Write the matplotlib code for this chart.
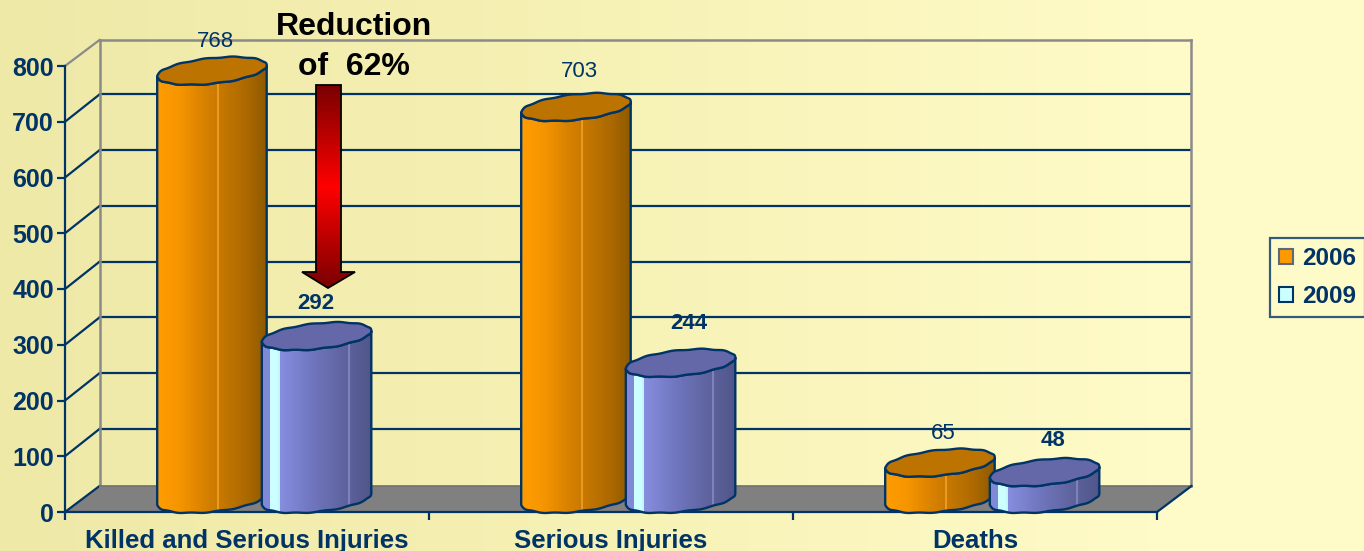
import numpy as np
import matplotlib
matplotlib.use('Agg')
import matplotlib.pyplot as plt
from matplotlib.colors import LinearSegmentedColormap
from matplotlib.patches import Patch, Polygon

plt.rcParams['font.family'] = ['Liberation Sans', 'DejaVu Sans']

# Values
categories = ['Killed and Serious Injuries', 'Serious Injuries', 'Deaths']
values_2006 = [768, 703, 65]
values_2009 = [292, 244, 48]
y_ticks = [0, 100, 200, 300, 400, 500, 600, 700, 800]

NAVY = '#003366'
GREY = '#8a8a8a'
W, H = 1364, 551

fig = plt.figure(figsize=(W / 100, H / 100), dpi=100)

# background gradient
bg = fig.add_axes([0, 0, 1, 1], zorder=-1)
bg_cmap = LinearSegmentedColormap.from_list('bg', ['#efe9a8', '#f6f1b4', '#fffbc8'])
bg.imshow(np.clip(np.linspace(0, 1.18, 400), 0, 1)[None, :], cmap=bg_cmap, aspect='auto')
bg.axis('off')

# front plane of the 3D box
left, right, top, bottom = 65, 1157, 66, 512
ax = fig.add_axes([left / W, 1 - bottom / H, (right - left) / W, (bottom - top) / H])
ax.patch.set_alpha(0)

px_x = 3 / (right - left)
px_y = 800 / (bottom - top)
DX = 34.5 * px_x
DY = 26 * px_y
grid_dy = 27.3 * px_y

# floor, walls and gridlines
ax.add_patch(Polygon([(0, 0), (3, 0), (3 + DX, DY), (DX, DY)], facecolor='#808080',
                     edgecolor='none', clip_on=False, zorder=1))
for v in y_ticks:
    if v in (0, 800):
        ax.plot([0, DX], [v, v + DY], color=GREY if v else NAVY, lw=1.6, clip_on=False, zorder=1.1)
    else:
        ax.plot([DX, 3 + DX], [v + grid_dy, v + grid_dy], color=NAVY, lw=1.6, clip_on=False, zorder=1.1)
        ax.plot([0, DX], [v, v + grid_dy], color=NAVY, lw=1.6, clip_on=False, zorder=1.1)
ax.plot([DX, 3 + DX], [800 + DY, 800 + DY], color=GREY, lw=1.8, clip_on=False, zorder=1.2)
ax.plot([DX, DX], [DY, 800 + DY], color=GREY, lw=1.8, clip_on=False, zorder=1.2)
ax.plot([3 + DX, 3 + DX], [DY, 800 + DY], color=GREY, lw=1.8, clip_on=False, zorder=1.2)
ax.plot([DX, 3 + DX], [DY, DY], color='#707070', lw=1.2, clip_on=False, zorder=1.2)
ax.plot([3, 3 + DX], [0, DY], color=NAVY, lw=1.6, clip_on=False, zorder=1.2)

orange_cols = ['#ff9c00', '#f59500', '#d98200', '#c27600', '#a86700', '#8f5a00']
orange_pos = [0, 0.2, 0.42, 0.62, 0.85, 1]
blue_cols = ['#8088d8', '#8088d8', '#ccffff', '#ccffff', '#888fe0', '#7076bf', '#5f649f', '#50558a']
blue_pos = [0, 0.065, 0.066, 0.145, 0.146, 0.45, 0.75, 1]
orange_map = LinearSegmentedColormap.from_list('o', list(zip(orange_pos, orange_cols)))
blue_map = LinearSegmentedColormap.from_list('b', list(zip(blue_pos, blue_cols)))

bar_w = 109.5 * px_x
rim_b = 12.8 * px_y
rim_s = 5.5 * px_y
wave = 0.4 * px_y
t_low = np.linspace(np.pi, 2 * np.pi, 80)
t_all = np.linspace(0, 2 * np.pi, 160)


def rim(t):
    # the original rims are a bit lumpy, not clean ellipses
    return rim_b * np.sin(t) + rim_s * np.cos(t) + wave * np.sin(12 * t)


def cylinder(xc, value, cmap, top_color, stripe, z):
    xc = xc + DX / 2
    y0 = DY / 2
    rim_x = xc + bar_w / 2 * np.cos(t_low)
    base_y = y0 + rim(t_low)
    top_y = base_y + value
    xs = np.r_[rim_x, rim_x[::-1]]
    ys = np.r_[base_y, top_y[::-1]]
    side = Polygon(np.c_[xs, ys], facecolor='none', edgecolor=NAVY, lw=1.7,
                   clip_on=False, zorder=z + 0.2)
    ax.add_patch(side)
    shade = cmap(np.linspace(0, 1, 55))[:, :3]
    k = int(stripe * 55)
    shade[k] = np.clip(shade[k] + 0.13, 0, 1)
    im = ax.imshow(shade[None, :, :], aspect='auto', interpolation='nearest', zorder=z,
                   extent=[xc - bar_w / 2, xc + bar_w / 2, ys.min(), ys.max()])
    im.set_clip_path(side)
    # top ellipse
    ax.add_patch(Polygon(np.c_[xc + bar_w / 2 * np.cos(t_all), y0 + value + rim(t_all)],
                         facecolor=top_color, edgecolor=NAVY, lw=1.7, clip_on=False, zorder=z + 0.3))
    return xc, y0 + value


x_pos = np.arange(len(categories)) + 0.5
bar_off = 52.3 * px_x
label_gap_2006 = [29, 36, 29]
label_gap_2009 = [33, 39, 32]
for i, x in enumerate(x_pos):
    xa, ya = cylinder(x - bar_off, values_2006[i], orange_map, '#bc7300', 0.56, 2 + i)
    ax.annotate(str(values_2006[i]), (xa, ya), xytext=(3, label_gap_2006[i]), textcoords='offset pixels',
                ha='center', va='center', fontsize=16, color=NAVY, zorder=9)
    xb, yb = cylinder(x + bar_off, values_2009[i], blue_map, '#6468a8', 0.79, 2.5 + i)
    ax.annotate(str(values_2009[i]), (xb, yb), xytext=(-1 if i == 0 else 8, label_gap_2009[i]),
                textcoords='offset pixels', ha='center', va='center', fontsize=16,
                fontweight='bold', color=NAVY, zorder=9)

ax.set_xlim(0, 3)
ax.set_ylim(0, 800)
ax.spines['top'].set_visible(False)
ax.spines['right'].set_visible(False)
for s in ['left', 'bottom']:
    ax.spines[s].set_color(NAVY)
    ax.spines[s].set_linewidth(1.6)
    ax.spines[s].set_zorder(1.3)
ax.set_yticks(y_ticks)
ax.set_xticks([0, 1, 2, 3])
ax.set_xticklabels([])
ax.set_xticks(x_pos, minor=True)
ax.set_xticklabels(categories, minor=True)
ax.tick_params(axis='both', which='major', color=NAVY, width=1.6, length=6)
ax.tick_params(axis='x', which='minor', length=0, pad=12, labelsize=18.5, labelcolor=NAVY)
ax.tick_params(axis='y', labelsize=18, labelcolor=NAVY, pad=2)
for lab in ax.get_yticklabels() + ax.get_xticklabels(minor=True):
    lab.set_fontweight('bold')

# arrow and its text, placed in pixel coords of the picture
fig.text(354 / W, 1 - 27 / H, 'Reduction', ha='center', va='center', fontsize=23,
         fontweight='bold', color='black')
fig.text(354 / W, 1 - 67 / H, 'of  62%', ha='center', va='center', fontsize=23,
         fontweight='bold', color='black')
arrow_pts = [(316, 85), (341, 85), (341, 272), (355, 272), (328, 288), (302, 272), (316, 272)]
arrow_map = LinearSegmentedColormap.from_list('r', ['#7a0000', '#ff0000', '#7a0000'])
overlay = fig.add_axes([0, 0, 1, 1], zorder=5)
overlay.axis('off')
arrow = Polygon(arrow_pts, closed=True, facecolor='none', edgecolor='black', lw=1.3, zorder=3)
overlay.add_patch(arrow)
arr_im = overlay.imshow(np.linspace(0, 1, 200)[:, None], cmap=arrow_map, aspect='auto',
                        extent=[302, 355, 288, 85], zorder=2)
arr_im.set_clip_path(arrow)
overlay.set_xlim(0, W)
overlay.set_ylim(H, 0)

# legend
handles = [Patch(facecolor='#ff9900', edgecolor='#5a6a7a', lw=1.5, label='2006'),
           Patch(facecolor='#ccffff', edgecolor=NAVY, lw=1.5, label='2009')]
leg = fig.legend(handles=handles, loc='center left', bbox_to_anchor=(1270 / W, 1 - 277.5 / H),
                 borderaxespad=0, prop={'weight': 'bold', 'size': 17.5}, labelcolor=NAVY,
                 handlelength=0.6, handleheight=0.6, handletextpad=0.36, borderpad=0.36,
                 labelspacing=0.62, fancybox=False, facecolor='none', edgecolor=NAVY, framealpha=None)
leg.get_frame().set_linewidth(1.6)

fig.savefig('out.png', dpi=100)
